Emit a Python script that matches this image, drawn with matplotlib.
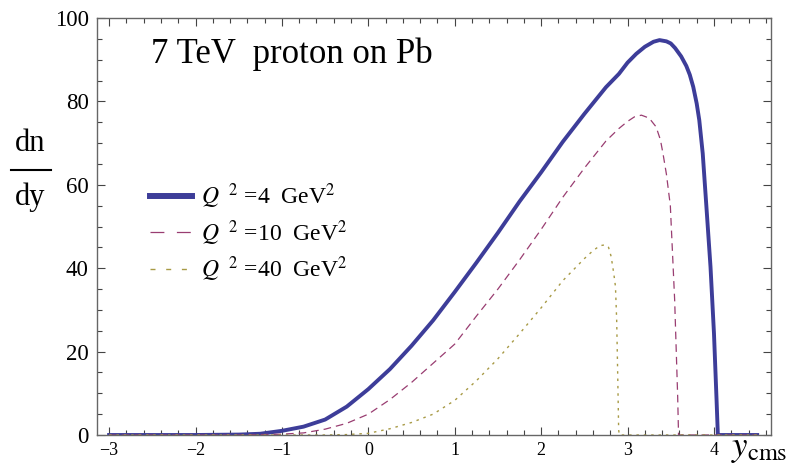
import matplotlib
matplotlib.use("Agg")
import matplotlib.pyplot as plt
from matplotlib.lines import Line2D
from matplotlib.ticker import MultipleLocator

plt.rcParams['font.family'] = 'Liberation Serif'
plt.rcParams['mathtext.fontset'] = 'stix'
plt.rcParams['lines.scale_dashes'] = False

# rapidity distributions dn/dy for three virtualities
y4 = [-3.0, -2.0, -1.5, -1.25, -1.0, -0.75, -0.5, -0.25, 0.0, 0.25, 0.5, 0.75, 1.0,
      1.25, 1.5, 1.75, 2.0, 2.25, 2.5, 2.75, 2.9, 3.0, 3.1, 3.2, 3.3, 3.37, 3.45, 3.5,
      3.55, 3.62, 3.68, 3.72, 3.76, 3.8, 3.83, 3.87, 3.91, 3.96, 4.0, 4.03, 4.045, 4.5]
dn4 = [0, 0, 0.1, 0.3, 1.0, 2.0, 3.7, 6.8, 11.0, 15.8, 21.4, 27.5, 34.3,
       41.3, 48.5, 56.0, 63.0, 70.3, 77.0, 83.4, 86.6, 89.3, 91.4, 93.1, 94.3, 94.7, 94.4, 93.9,
       92.8, 90.8, 88.5, 86.4, 83.5, 79.5, 75.5, 67.5, 55.5, 40.3, 24.4, 8.4, 0, 0]

y10 = [-3.0, -1.5, -1.0, -0.75, -0.5, -0.25, 0.0, 0.25, 0.5, 0.75, 1.0, 1.25, 1.5,
       1.75, 2.0, 2.25, 2.5, 2.75, 2.9, 3.0, 3.08, 3.16, 3.25, 3.33, 3.38, 3.41, 3.45,
       3.495, 3.545, 3.58, 3.59, 4.5]
dn10 = [0, 0, 0.2, 0.5, 1.4, 2.8, 5.0, 8.5, 12.6, 17.2, 21.8, 28.5, 35.0,
        42.0, 49.3, 57.0, 64.0, 70.5, 73.5, 75.2, 76.3, 76.7, 76.0, 73.9, 70.8, 67.5, 62.5,
        55.0, 32.4, 9.2, 0, 0]

y40 = [-3.0, -0.5, -0.25, 0.0, 0.25, 0.5, 0.75, 1.0, 1.25, 1.5, 1.75, 2.0, 2.25,
       2.5, 2.6, 2.68, 2.74, 2.78, 2.81, 2.84, 2.86, 2.874, 2.885, 2.897, 2.905, 4.5]
dn40 = [0, 0, 0.1, 0.4, 1.5, 3.0, 5.0, 8.3, 13.0, 18.3, 24.3, 30.5, 37.0,
        42.3, 44.2, 45.4, 45.6, 45.0, 42.8, 38.8, 35.6, 27.6, 15.6, 1.2, 0, 0]

labels = [r'$Q^{\ \ 2}$ =4  GeV$^2$', r'$Q^{\ \ 2}$ =10  GeV$^2$', r'$Q^{\ \ 2}$ =40  GeV$^2$']
colors = ['#3d3d99', '#993d71', '#a89a45']
xticks = [-3, -2, -1, 0, 1, 2, 3, 4]
yticks = [0, 20, 40, 60, 80, 100]

fig = plt.figure(figsize=(7.87, 4.72), dpi=100)
ax = fig.add_axes([97/787, 1-435/472, (771-97)/787, (435-18)/472])

ax.plot(y4, dn4, color=colors[0], lw=2.8, solid_joinstyle='round')
ax.plot(y10, dn10, color=colors[1], lw=0.9, dashes=(5.5, 3.6))
ax.plot(y40, dn40, color=colors[2], lw=1.0, dashes=(1.8, 3.5))

ax.set_xlim(-3.14, 4.66)
ax.set_ylim(0, 100)
ax.set_xticks(xticks)
ax.set_xticklabels(['\u2212' + str(-t) if t < 0 else str(t) for t in xticks])
ax.set_yticks(yticks)
ax.xaxis.set_minor_locator(MultipleLocator(0.2))
ax.yaxis.set_minor_locator(MultipleLocator(5))
ax.tick_params(which='both', direction='in', top=True, right=True,
               color='#444444', width=0.8)
ax.tick_params(axis='y', labelsize=16.5, pad=6)
ax.tick_params(axis='x', labelsize=13, pad=5)
ax.tick_params(which='major', length=6)
ax.tick_params(which='minor', length=3.4)
for s in ax.spines.values():
    s.set_color('#666666')
    s.set_linewidth(1.0)

ax.text(-2.51, 89.2, '7 TeV  proton on Pb', fontsize=25, va='baseline', ha='left')

# legend with its own dash lengths
handles = [Line2D([], [], color=colors[0], lw=4.3),
           Line2D([], [], color=colors[1], lw=0.9, dashes=(10, 9)),
           Line2D([], [], color=colors[2], lw=1.0, dashes=(3.6, 7.7))]
ax.legend(handles, labels, loc='upper left', bbox_to_anchor=(0.065, 0.63),
          frameon=False, fontsize=17, handlelength=1.75, handletextpad=0.4,
          labelspacing=0.28, borderaxespad=0)

# dn/dy written as a fraction on the left
fig.text(30/787, 1-150.7/472, 'dn', fontsize=22, ha='center', va='baseline')
fig.text(30/787, 1-205/472, 'dy', fontsize=22, ha='center', va='baseline')
fig.add_artist(Line2D([10.7/787, 51/787], [1-170/472, 1-170/472], color='black', lw=1.5))

fig.text(731/787, 1-456/472, r'$y_{\mathrm{cms}}$', fontsize=25, va='baseline')

fig.savefig('out.png', dpi=100)
